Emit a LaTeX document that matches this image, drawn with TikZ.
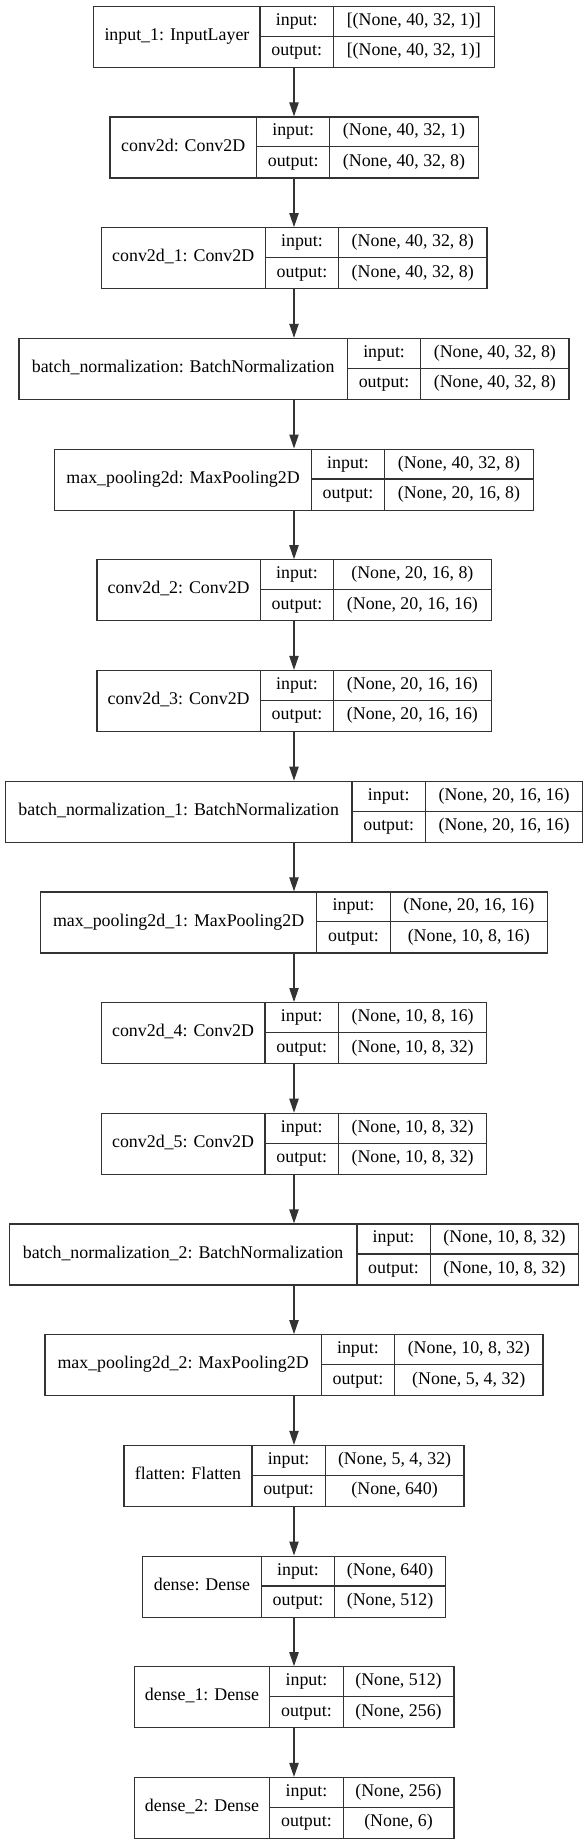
\documentclass[tikz,border=0pt]{standalone}
\usepackage{fontspec}
\setmainfont{Liberation Serif}
\usetikzlibrary{arrows.meta}
\tikzset{
  lbox/.style={draw=black!80, line width=0.9pt, inner sep=0pt, anchor=north, fill=none},
  sep/.style={draw=black!80, line width=0.9pt},
  txt/.style={inner sep=0pt, font=\fontsize{13.4pt}{16pt}\selectfont, text height=9.4pt, text depth=3pt, text=black},
  arr/.style={draw=black!80, line width=0.9pt, -{Triangle[length=10.5pt,width=7pt]}},
}
\newcommand{\kerasbox}[7]{%
  \pgfmathsetmacro{\Wd}{#3+73.3+#4}%
  \pgfmathsetmacro{\xa}{294-\Wd/2}%
  \pgfmathsetmacro{\xb}{\xa+#3}%
  \pgfmathsetmacro{\xc}{\xb+73.3}%
  \pgfmathsetmacro{\xd}{294+\Wd/2}%
  \pgfmathsetmacro{\ytop}{5.7+110.7*#2}%
  \pgfmathsetmacro{\yb}{\ytop+61}%
  \pgfmathsetmacro{\ym}{\ytop+30.5}%
  \node[lbox, minimum width=\Wd*0.75pt, minimum height=61*0.75pt] (#1) at (294,\ytop) {};
  \draw[sep] (\xb,\ytop) -- (\xb,\yb);
  \draw[sep] (\xc,\ytop) -- (\xc,\yb);
  \draw[sep] (\xb,\ym) -- (\xd,\ym);
  \node[txt] (#1-name) at ({(\xa+\xb)/2},\ym) {#5};
  \node[txt] (#1-inl) at ({(\xb+\xc)/2},{\ytop+15.25}) {input:};
  \node[txt] (#1-outl) at ({(\xb+\xc)/2},{\ytop+45.75}) {output:};
  \node[txt] (#1-in) at ({(\xc+\xd)/2},{\ytop+15.25}) {#6};
  \node[txt] (#1-out) at ({(\xc+\xd)/2},{\ytop+45.75}) {#7};
}
\begin{document}
\begin{tikzpicture}[x=0.75pt,y=-0.75pt]
\useasboundingbox (0,0) rectangle (588,1844);
\kerasbox{l0}{0}{166.2}{160.8}{input\_1: InputLayer}{[(None, 40, 32, 1)]}{[(None, 40, 32, 1)]}
\kerasbox{l1}{1}{146.6}{148.3}{conv2d: Conv2D}{(None, 40, 32, 1)}{(None, 40, 32, 8)}
\kerasbox{l2}{2}{164.2}{148.3}{conv2d\_1: Conv2D}{(None, 40, 32, 8)}{(None, 40, 32, 8)}
\kerasbox{l3}{3}{328.5}{148.3}{batch\_normalization: BatchNormalization}{(None, 40, 32, 8)}{(None, 40, 32, 8)}
\kerasbox{l4}{4}{256.6}{148.5}{max\_pooling2d: MaxPooling2D}{(None, 40, 32, 8)}{(None, 20, 16, 8)}
\kerasbox{l5}{5}{163.5}{157.4}{conv2d\_2: Conv2D}{(None, 20, 16, 8)}{(None, 20, 16, 16)}
\kerasbox{l6}{6}{163.5}{157.4}{conv2d\_3: Conv2D}{(None, 20, 16, 16)}{(None, 20, 16, 16)}
\kerasbox{l7}{7}{346.8}{157.4}{batch\_normalization\_1: BatchNormalization}{(None, 20, 16, 16)}{(None, 20, 16, 16)}
\kerasbox{l8}{8}{276.3}{157.4}{max\_pooling2d\_1: MaxPooling2D}{(None, 20, 16, 16)}{(None, 10, 8, 16)}
\kerasbox{l9}{9}{163.9}{148.5}{conv2d\_4: Conv2D}{(None, 10, 8, 16)}{(None, 10, 8, 32)}
\kerasbox{l10}{10}{163.9}{148.5}{conv2d\_5: Conv2D}{(None, 10, 8, 32)}{(None, 10, 8, 32)}
\kerasbox{l11}{11}{347.6}{148.5}{batch\_normalization\_2: BatchNormalization}{(None, 10, 8, 32)}{(None, 10, 8, 32)}
\kerasbox{l12}{12}{276.3}{148.5}{max\_pooling2d\_2: MaxPooling2D}{(None, 10, 8, 32)}{(None, 5, 4, 32)}
\kerasbox{l13}{13}{127.9}{138.7}{flatten: Flatten}{(None, 5, 4, 32)}{(None, 640)}
\kerasbox{l14}{14}{118.8}{110.8}{dense: Dense}{(None, 640)}{(None, 512)}
\kerasbox{l15}{15}{135.7}{110.8}{dense\_1: Dense}{(None, 512)}{(None, 256)}
\kerasbox{l16}{16}{135.7}{110.8}{dense\_2: Dense}{(None, 256)}{(None, 6)}
\foreach \a/\b in {l0/l1,l1/l2,l2/l3,l3/l4,l4/l5,l5/l6,l6/l7,l7/l8,l8/l9,l9/l10,l10/l11,l11/l12,l12/l13,l13/l14,l14/l15,l15/l16}
  \draw[arr] (\a.south) -- (\b.north);
\end{tikzpicture}
\end{document}
